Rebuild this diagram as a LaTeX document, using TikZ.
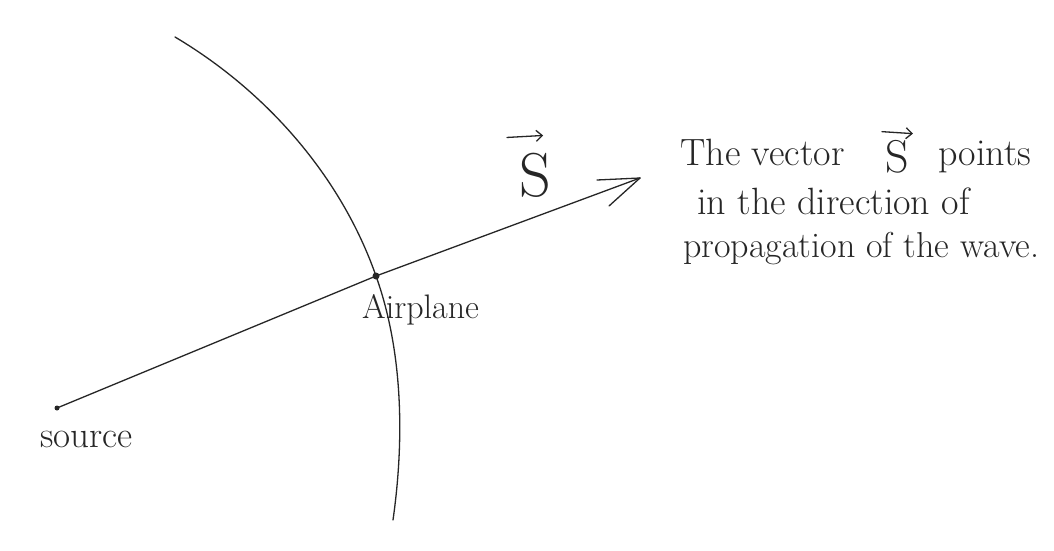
\RequirePackage{fix-cm}
\documentclass[tikz,border=0pt]{standalone}
\usetikzlibrary{arrows.meta}
\begin{document}
\begin{tikzpicture}[x=1pt,y=-1pt,
  ink/.style={draw=black!85,line width=1.3pt,line cap=round,line join=round},
  vecbar/.style={ink,-{Straight Barb[length=6pt,width=11pt,line width=1.3pt]}},
  hand/.style={inner sep=0pt,anchor=base west,text=black!85},
  dotmark/.style={circle,fill=black!85,inner sep=0pt,minimum size=#1}]
\useasboundingbox[fill=white] (0,0) rectangle (1054,551);
% points
\node[dotmark=5pt] (src) at (57,408) {};
\node[dotmark=7pt] (plane) at (376,276) {};
\coordinate (tip) at (640,178);
\coordinate (top) at (175,37);
\coordinate (bot) at (393,520);
% wavefront arc
\draw[ink] (top) .. controls (266,91) and (341,176) .. (plane.center)
  .. controls (401,346) and (405.6,431) .. (bot);
% ray
\draw[ink] (src.center) -- (plane.center) -- (tip);
\draw[ink] (tip) -- ++(-43,2);
\draw[ink] (tip) -- ++(-31,28);
% vector label on the ray
\node[hand,font=\fontsize{62}{62}\selectfont] (S) at (519,196) {S};
\draw[vecbar] ([shift={(-12,-15)}]S.north west) -- ([shift={(-8,-17)}]S.north east);
% explanation
\node[hand,font=\fontsize{38}{38}\selectfont] (l1a) at (680,165) {The vector};
\node[hand,font=\fontsize{46}{46}\selectfont] (S2) at (885,172) {S};
\draw[vecbar] ([shift={(-3,-8)}]S2.north west) -- ([shift={(4,-6)}]S2.north east);
\node[hand,font=\fontsize{38}{38}\selectfont] (l1b) at (938,165) {points};
\node[hand,font=\fontsize{38}{38}\selectfont] (l2) at (697,214) {in the direction of};
\node[hand,font=\fontsize{36}{36}\selectfont] (l3) at (683,257) {propagation of the wave.};
\node[hand,font=\fontsize{34}{34}\selectfont] (ap) at (362,318) {Airplane};
\node[hand,font=\fontsize{37}{37}\selectfont] (so) at (40,447) {source};
\end{tikzpicture}
\end{document}
